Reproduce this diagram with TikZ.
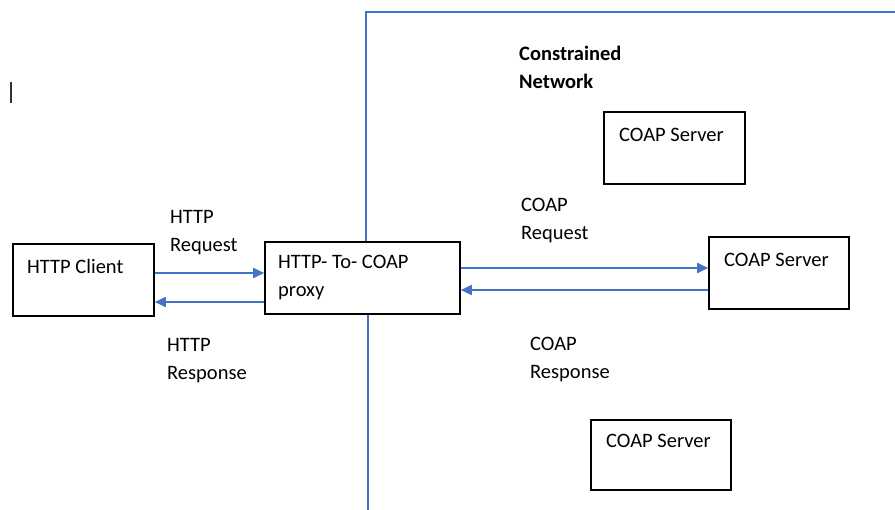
\documentclass[tikz,border=0pt]{standalone}
\usepackage{fontspec}
\setmainfont{Carlito}
\usetikzlibrary{arrows.meta}
\definecolor{linkblue}{RGB}{68,114,196}
\tikzset{
  box/.style={draw=black, line width=1.6bp, inner sep=0pt},
  lbl/.style={anchor=north west, inner sep=0pt, align=left,
              font=\fontsize{20.5bp}{28bp}\selectfont},
  flow/.style={draw=linkblue, line width=1.8bp,
               -{Triangle[length=11bp,width=10bp]}},
  border/.style={draw=linkblue, line width=1.8bp},
}
\begin{document}
\begin{tikzpicture}[x=1bp,y=-1bp]
\useasboundingbox (0,0) rectangle (895,510);

% boxes
\node[box, minimum width=141bp, minimum height=72bp] (client) at (83.5,280) {};
\node[box, minimum width=195bp, minimum height=72bp] (proxy) at (362.5,278) {};
\node[box, minimum width=141bp, minimum height=72bp] (srvtop) at (674.5,148) {};
\node[box, minimum width=140bp, minimum height=72bp] (srvmid) at (779,273) {};
\node[box, minimum width=140bp, minimum height=70bp] (srvbot) at (661,455) {};

% box texts
\node[lbl] (tclient) at (27,259) {HTTP Client};
\node[lbl] (tproxy) at (278,255) {HTTP- To- COAP\\proxy};
\node[lbl] (tsrvtop) at (619,128) {COAP Server};
\node[lbl] (tsrvmid) at (724,253) {COAP Server};
\node[lbl] (tsrvbot) at (606,434) {COAP Server};

% network boundary
\coordinate (ntop) at (366,12);
\coordinate (nright) at (895,12);
\coordinate (nbottom) at (368,510);
\draw[border] (366,0 |- proxy.north) -- (ntop) -- (nright);
\draw[border] (368,0 |- proxy.south) -- (nbottom);
\node[lbl, font=\fontsize{20.5bp}{28bp}\selectfont\bfseries] (tnet) at (519,46) {Constrained\\Network};

% message flows
\coordinate (hreq) at (0,273);
\coordinate (hresp) at (0,302);
\coordinate (creq) at (0,268);
\coordinate (cresp) at (0,290);
\draw[flow] (hreq -| client.east) -- (hreq -| proxy.west);
\draw[flow] (hresp -| proxy.west) -- (hresp -| client.east);
\draw[flow] (creq -| proxy.east) -- (creq -| srvmid.west);
\draw[flow] (cresp -| srvmid.west) -- (cresp -| proxy.east);

% flow labels
\node[lbl] (threq) at (170,210) {HTTP\\Request};
\node[lbl] (thresp) at (167,338) {HTTP\\Response};
\node[lbl] (tcreq) at (521,198) {COAP\\Request};
\node[lbl] (tcresp) at (530,337) {COAP\\Response};

% text cursor
\coordinate (cur1) at (11,82);
\coordinate (cur2) at (11,103);
\draw[line width=1.8bp, black!80] (cur1) -- (cur2);
\end{tikzpicture}
\end{document}
